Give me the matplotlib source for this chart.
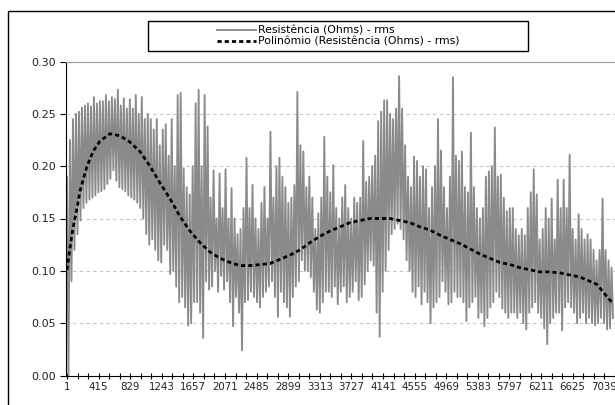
import numpy as np
import matplotlib
matplotlib.use('Agg')
import matplotlib.pyplot as plt
from matplotlib.patches import Rectangle

rms = [
    # dense start
    0.190, 0.000, 0.225, 0.090, 0.245, 0.120, 0.250, 0.135, 0.252, 0.148,
    0.256, 0.160, 0.258, 0.165, 0.260, 0.168, 0.257, 0.170, 0.266, 0.172,
    0.260, 0.175, 0.262, 0.176, 0.262, 0.178, 0.268, 0.183, 0.262, 0.188,
    0.266, 0.196, 0.264, 0.186, 0.273, 0.180, 0.258, 0.178, 0.265, 0.176,
    0.255, 0.172, 0.264, 0.170, 0.255, 0.168, 0.268, 0.165, 0.250, 0.160,
    0.266, 0.150, 0.245, 0.135,
    # break up of the band
    0.250, 0.125, 0.245, 0.130, 0.235, 0.120, 0.245, 0.110, 0.220, 0.108,
    0.235, 0.125, 0.240, 0.120, 0.210, 0.097, 0.245, 0.100, 0.200, 0.085,
    0.268, 0.070, 0.270, 0.075, 0.198, 0.065, 0.180, 0.048, 0.173, 0.050,
    0.200, 0.070, 0.260, 0.070, 0.273, 0.060, 0.200, 0.036,
    # middle section
    0.268, 0.090, 0.238, 0.082, 0.170, 0.085, 0.196, 0.100, 0.150, 0.080,
    0.193, 0.095, 0.160, 0.082, 0.197, 0.090, 0.150, 0.070, 0.179, 0.047,
    0.150, 0.075, 0.135, 0.060, 0.140, 0.024, 0.160, 0.070, 0.208, 0.072,
    0.160, 0.080, 0.182, 0.075, 0.150, 0.070, 0.140, 0.065, 0.165, 0.075,
    0.180, 0.080, 0.150, 0.085, 0.233, 0.090, 0.170, 0.075, 0.200, 0.056,
    0.208, 0.080, 0.190, 0.070, 0.180, 0.065, 0.165, 0.056, 0.170, 0.075,
    0.182, 0.085, 0.271, 0.090, 0.220, 0.110, 0.214, 0.100, 0.180, 0.100,
    0.190, 0.094, 0.170, 0.080, 0.140, 0.063, 0.155, 0.060, 0.170, 0.070,
    0.228, 0.080, 0.190, 0.080, 0.175, 0.075, 0.201, 0.085, 0.160, 0.068,
    0.150, 0.080, 0.170, 0.085, 0.182, 0.070, 0.160, 0.075, 0.150, 0.080,
    0.170, 0.090, 0.165, 0.072, 0.170, 0.075, 0.224, 0.087, 0.185, 0.100,
    0.190, 0.110, 0.200, 0.105, 0.210, 0.060, 0.243, 0.037, 0.252, 0.080,
    # second burst and tail
    0.263, 0.100, 0.263, 0.120, 0.250, 0.135, 0.245, 0.140, 0.255, 0.145,
    0.286, 0.140, 0.255, 0.130, 0.220, 0.110, 0.190, 0.100, 0.180, 0.080,
    0.209, 0.075, 0.205, 0.085, 0.190, 0.068, 0.200, 0.080, 0.197, 0.070,
    0.160, 0.050, 0.180, 0.065, 0.200, 0.070, 0.245, 0.075, 0.215, 0.090,
    0.180, 0.080, 0.160, 0.068, 0.190, 0.070, 0.285, 0.080, 0.210, 0.075,
    0.205, 0.075, 0.214, 0.070, 0.180, 0.052, 0.175, 0.065, 0.232, 0.070,
    0.180, 0.075, 0.160, 0.055, 0.150, 0.060, 0.160, 0.047, 0.190, 0.055,
    0.195, 0.065, 0.200, 0.070, 0.237, 0.080, 0.190, 0.075, 0.192, 0.064,
    0.170, 0.060, 0.157, 0.055, 0.160, 0.060, 0.160, 0.060, 0.140, 0.055,
    0.134, 0.060, 0.140, 0.050, 0.134, 0.044, 0.160, 0.060, 0.175, 0.065,
    0.197, 0.070, 0.173, 0.060, 0.130, 0.055, 0.140, 0.045, 0.160, 0.030,
    0.150, 0.050, 0.169, 0.055, 0.130, 0.060, 0.187, 0.060, 0.160, 0.043,
    0.187, 0.065, 0.160, 0.070, 0.211, 0.065, 0.140, 0.060, 0.130, 0.050,
    0.154, 0.055, 0.140, 0.060, 0.130, 0.050, 0.135, 0.055, 0.130, 0.050,
    0.120, 0.048, 0.110, 0.050, 0.120, 0.055, 0.169, 0.050, 0.120, 0.044,
    0.110, 0.045, 0.103, 0.055,
]
last_sample = 7154

# polynomial trend line (sample number, value)
trend_idx = [1, 40, 80, 132, 171, 263, 342, 433, 564, 695, 826, 957, 1088, 1219,
             1350, 1481, 1612, 1743, 1874, 2005, 2136, 2267, 2398, 2529, 2660,
             2791, 2922, 3053, 3184, 3315, 3446, 3577, 3708, 3839, 3970, 4101,
             4232, 4364, 4494, 4625, 4756, 4887, 5018, 5149, 5280, 5411, 5542,
             5673, 5804, 5935, 6066, 6197, 6328, 6459, 6590, 6721, 6852, 6944,
             7023, 7088, 7154]
trend_val = [0.101, 0.122, 0.141, 0.160, 0.176, 0.200, 0.214, 0.224, 0.231, 0.229,
             0.223, 0.214, 0.200, 0.184, 0.169, 0.152, 0.138, 0.127, 0.118, 0.112,
             0.108, 0.105, 0.105, 0.106, 0.107, 0.111, 0.115, 0.120, 0.127, 0.133,
             0.138, 0.142, 0.146, 0.148, 0.150, 0.150, 0.150, 0.148, 0.146, 0.142,
             0.139, 0.134, 0.130, 0.126, 0.121, 0.116, 0.112, 0.108, 0.106, 0.103,
             0.101, 0.099, 0.099, 0.098, 0.096, 0.094, 0.090, 0.087, 0.080, 0.074,
             0.069]

y_ticks = [0.00, 0.05, 0.10, 0.15, 0.20, 0.25, 0.30]
label_step = 414

fig = plt.figure(figsize=(6.15, 4.05), dpi=100)
W, H = 615, 405

# outer chart frame (clipped at right/bottom like the original)
fig.patches.append(Rectangle((8 / W, -0.1), 1.2, 1 - 11 / H + 0.1,
                             transform=fig.transFigure, fill=False,
                             edgecolor='black', lw=1.0))

ax = fig.add_axes([66 / W, 1 - 375.5 / H, 1 - 66 / W + 0.01, (375.5 - 61.5) / H])

x = np.linspace(1, last_sample, len(rms))
ax.plot(x, rms, color='#8a8a8a', lw=1.35, label='Resistência (Ohms) - rms', zorder=2)
ax.plot(trend_idx, trend_val, color='black', lw=2.0, dashes=(1.5, 1.1),
        label='Polinômio (Resistência (Ohms) - rms)', zorder=3)

ax.set_ylim(0, 0.30)
ax.set_xlim(-12, 7180 * (1 + 0.01 * W / 549))
ax.set_yticks(y_ticks)
ax.set_yticklabels(['%.2f' % v for v in y_ticks], fontsize=8, color='#222222')

ticks = np.arange(1, 7200, label_step / 3)
labels = [str(int(round(t))) if int(round(t - 1)) % label_step == 0 else '' for t in ticks]
ax.set_xticks(ticks)
ax.set_xticklabels(labels, fontsize=7.4, color='#222222')
ax.tick_params(axis='x', direction='inout', length=4, width=0.8, pad=3)
ax.tick_params(axis='y', direction='out', length=4, width=0.8, pad=3)

for v in y_ticks[1:-1]:
    ax.axhline(v, color='#c4c4c4', lw=0.8, ls=(0, (3, 3)), zorder=1)

ax.spines['right'].set_visible(False)
ax.spines['top'].set_color('#9a9a9a')
ax.spines['left'].set_color('black')
ax.spines['bottom'].set_color('black')

# legend box
fig.patches.append(Rectangle((148 / W, 1 - 51 / H), 380 / W, 30 / H,
                             transform=fig.transFigure, facecolor='white',
                             edgecolor='black', lw=1.0, zorder=5))
fig.legend(loc='center', bbox_to_anchor=(338 / W, 1 - 36 / H), frameon=False,
           fontsize=7.8, handlelength=3.6, handletextpad=0.15, labelspacing=0.1,
           borderpad=0)

fig.savefig('out.png', dpi=100)
